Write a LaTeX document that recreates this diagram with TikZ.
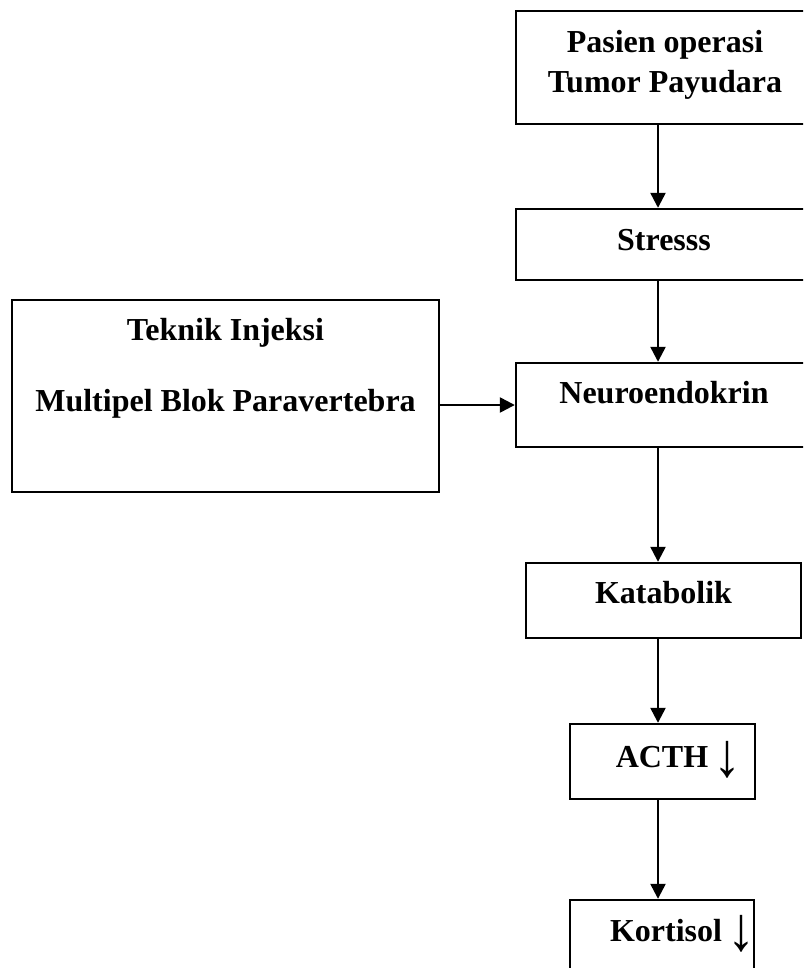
\documentclass[tikz,border=0pt]{standalone}
\usepackage{fontspec}
\setmainfont{Liberation Serif}
\usetikzlibrary{arrows.meta}

\newcommand{\turun}{\hspace{3pt}\makebox[17pt][c]{\raisebox{-11pt}{\resizebox*{28pt}{37pt}{\raisebox{\depth}{↓}}}}}

\begin{document}
\begin{tikzpicture}[
  x=1pt,
  y=-1pt,
  >={Triangle[length=15pt,width=15pt]},
  box/.style={
    draw=black,
    line width=2.4pt,
    inner sep=0pt,
    align=center,
    font=\fontsize{32}{40}\selectfont\bfseries
  },
  arrow/.style={->,line width=2.4pt,black}
]
  \path[use as bounding box,clip] (0,0) rectangle (803,968);
  \coordinate (spine) at (658,0);

  \node[box,minimum width=298pt,minimum height=113pt,text height=70pt,text depth=19pt] (pasien) at (665,67.5) {Pasien operasi\\Tumor Payudara};
  \node[box,minimum width=296pt,minimum height=71pt,text height=22pt,text depth=9pt] (stress) at (664,244.5) {Stresss};
  \node[box,minimum width=296pt,minimum height=84pt,text height=22pt,text depth=26pt] (neuro) at (664,405) {Neuroendokrin};
  \node[box,minimum width=275pt,minimum height=75pt,text height=22pt,text depth=17pt] (katabolik) at (663.5,600.5) {Katabolik};
  \node[box,minimum width=185pt,minimum height=75pt,text height=22pt,text depth=11pt] (acth) at (662.5,761.5) {\hspace*{27pt}ACTH \turun};
  \node[box,minimum width=184pt,minimum height=90pt,text height=22pt,text depth=30pt] (kortisol) at (662,945) {\hspace*{36pt}Kortisol \turun};
  \node[box,minimum width=427pt,minimum height=192pt,text height=100pt,text depth=70pt] (teknik) at (225.5,396) {Teknik Injeksi\\[31pt]Multipel Blok Paravertebra};

  \draw[arrow] (pasien.south -| spine) -- (stress.north -| spine);
  \draw[arrow] (stress.south -| spine) -- (neuro.north -| spine);
  \draw[arrow] (neuro.south -| spine) -- (katabolik.north -| spine);
  \draw[arrow] (katabolik.south -| spine) -- (acth.north -| spine);
  \draw[arrow] (acth.south -| spine) -- (kortisol.north -| spine);
  \draw[arrow] (teknik.east |- neuro.west) -- (neuro.west);
\end{tikzpicture}
\end{document}
